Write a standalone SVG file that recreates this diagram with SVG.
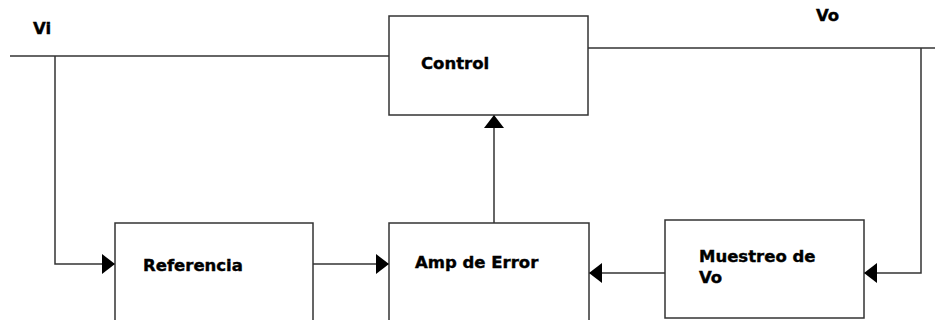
<svg xmlns="http://www.w3.org/2000/svg" width="935" height="320" viewBox="0 0 935 320">
<defs>
<style>
.box{fill:#fff;stroke:#333;stroke-width:1.5}
.ln{fill:none;stroke:#333;stroke-width:1.5}
.t{font-family:"DejaVu Sans",sans-serif;font-weight:bold;font-size:16.5px;fill:#000;stroke:#000;stroke-width:0.4}
</style>
<marker id="ah" markerUnits="userSpaceOnUse" markerWidth="13" markerHeight="20" refX="13" refY="10" orient="auto" viewBox="0 0 13 20">
<path d="M0,0 L13,10 L0,20 Z" fill="#000"/>
</marker>
</defs>
<rect width="935" height="320" fill="#fff"/>
<g id="connectors">
<path class="ln" d="M10,56 H389"/>
<path class="ln" d="M55,56 V264 H115" marker-end="url(#ah)"/>
<path class="ln" d="M313,264 H389" marker-end="url(#ah)"/>
<path class="ln" d="M494,223 V115" marker-end="url(#ah)"/>
<path class="ln" d="M588,48 H935"/>
<path class="ln" d="M921,48 V273 H864" marker-end="url(#ah)"/>
<path class="ln" d="M665,273 H589" marker-end="url(#ah)"/>
</g>
<g id="vi"><text class="t" x="33" y="34">Vi</text></g>
<g id="vo"><text class="t" x="816" y="21">Vo</text></g>
<g id="control">
<rect class="box" x="389" y="16" width="199" height="99"/>
<text class="t" x="421" y="69">Control</text>
</g>
<g id="referencia">
<rect class="box" x="115" y="223" width="198" height="100"/>
<text class="t" x="143" y="271">Referencia</text>
</g>
<g id="amp">
<rect class="box" x="389" y="223" width="200" height="100"/>
<text class="t" x="415" y="268">Amp de Error</text>
</g>
<g id="muestreo">
<rect class="box" x="665" y="220" width="199" height="98"/>
<text class="t" x="699" y="262">Muestreo de</text>
<text class="t" x="699" y="283">Vo</text>
</g>
</svg>
